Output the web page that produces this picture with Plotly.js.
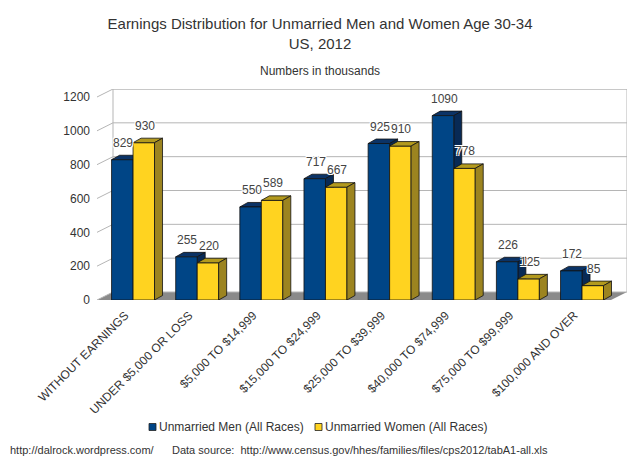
<!DOCTYPE html>
<html>
<head>
<meta charset="utf-8">
<script src="https://cdn.plot.ly/plotly-3.0.1.min.js"></script>
<style>html,body{margin:0;padding:0;background:#fff;}#chart{width:640px;height:461px;}</style>
</head>
<body>
<div id="chart"></div>
<script>
// ---- data ----
var categories = ["WITHOUT EARNINGS", "UNDER $5,000 OR LOSS", "$5,000 TO $14,999", "$15,000 TO $24,999",
                  "$25,000 TO $39,999", "$40,000 TO $74,999", "$75,000 TO $99,999", "$100,000 AND OVER"];
var men   = [829, 255, 550, 717, 925, 1090, 226, 172];
var women = [930, 220, 589, 667, 910, 778, 125, 85];
var seriesNames = ["Unmarried Men (All Races)", "Unmarried Women (All Races)"];
var yTicks = [0, 200, 400, 600, 800, 1000, 1200];

// ---- layout constants ----
var W = 640, H = 461;
var mL = 97, mR = 13, mT = 89, mB = 161;
var plotW = W - mL - mR, plotH = H - mT - mB;
var pxPerX = 64.14;               // pixels per category
var xMin = -0.562, xMax = xMin + plotW / pxPerX;
var pxPerY = 203 / 1200;
var yMax = plotH / pxPerY;
var bargap = 0.33;
var half = (1 - bargap) / 2;
var wallDx = 16 / pxPerX, wallDy = 8 / pxPerY;   // back wall depth
var barDx = 8 / pxPerX, barDy = 4.5 / pxPerY;    // bar depth
var backLeft = xMin + wallDx, frontRight = xMax - wallDx;
function px2paperX(px) { return (px - mL) / plotW; }
function px2paperY(py) { return (H - mB - py) / plotH; }

var idx = categories.map(function (c, i) { return i; });

var colMen = "#004586", colWomen = "#ffd320";
var colMenTop = "#0b3366", colMenSide = "#082a55";
var colWomenTop = "#b39a1e", colWomenSide = "#9c8420";
var FAM = "Liberation Sans, Arial, sans-serif";

var traces = [
  { type: "bar", name: seriesNames[0], x: idx, y: men,
    marker: { color: colMen, line: { color: "#111", width: 0.8 } }, hoverinfo: "y" },
  { type: "bar", name: seriesNames[1], x: idx, y: women,
    marker: { color: colWomen, line: { color: "#111", width: 0.8 } }, hoverinfo: "y" }
];

var shapes = [];
// floor
shapes.push({ type: "path", xref: "x", yref: "y", layer: "below",
  path: "M" + xMin + ",0 L" + frontRight + ",0 L" + xMax + "," + wallDy + " L" + backLeft + "," + wallDy + " Z",
  fillcolor: "#8a8a8a", line: { width: 0 } });
// back wall frame
shapes.push({ type: "rect", xref: "x", yref: "y", layer: "below",
  x0: backLeft, x1: xMax, y0: wallDy, y1: yMax, line: { color: "#b5b5b5", width: 1 }, fillcolor: "rgba(0,0,0,0)" });
// back wall gridlines + side wall diagonals
yTicks.forEach(function (v) {
  if (v > 0) {
    shapes.push({ type: "line", xref: "x", yref: "y", layer: "below",
      x0: backLeft, x1: xMax, y0: v + wallDy, y1: v + wallDy, line: { color: "#b5b5b5", width: 1 } });
  }
  shapes.push({ type: "line", xref: "x", yref: "y", layer: "below",
    x0: xMin, x1: backLeft, y0: v, y1: v + wallDy, line: { color: "#b5b5b5", width: 1 } });
});

// 3D faces for bars
function faces(x0, x1, v, topCol, sideCol, layer) {
  shapes.push({ type: "path", xref: "x", yref: "y", layer: layer,
    path: "M" + x0 + "," + v + " L" + x1 + "," + v + " L" + (x1 + barDx) + "," + (v + barDy) + " L" + (x0 + barDx) + "," + (v + barDy) + " Z",
    fillcolor: topCol, line: { color: "#111", width: 0.8 } });
  shapes.push({ type: "path", xref: "x", yref: "y", layer: layer,
    path: "M" + x1 + "," + v + " L" + (x1 + barDx) + "," + (v + barDy) + " L" + (x1 + barDx) + "," + barDy + " L" + x1 + ",0 Z",
    fillcolor: sideCol, line: { color: "#111", width: 0.8 } });
}
idx.forEach(function (k) {
  faces(k - half, k, men[k], colMenTop, colMenSide, "between");
  faces(k, k + half, women[k], colWomenTop, colWomenSide, "above");
});

var halo = "1px 1px 0 #fff, -1px -1px 0 #fff, 1px -1px 0 #fff, -1px 1px 0 #fff";
var lblFont = { family: FAM, size: 12, color: "#444", shadow: halo };
var annotations = [];
idx.forEach(function (k) {
  annotations.push({ x: k - half / 2, y: men[k], xref: "x", yref: "y", text: String(men[k]),
    showarrow: false, yanchor: "bottom", yshift: 8, xshift: 1, font: lblFont });
  annotations.push({ x: k + half / 2, y: women[k], xref: "x", yref: "y", text: String(women[k]),
    showarrow: false, yanchor: "bottom", yshift: 8, xshift: 1, font: lblFont });
});
annotations.push({ xref: "paper", yref: "paper", x: px2paperX(W / 2), y: px2paperY(71),
  text: "Numbers in thousands", showarrow: false, xanchor: "center", yanchor: "middle",
  font: { family: FAM, size: 12, color: "#333" } });
annotations.push({ xref: "paper", yref: "paper", x: px2paperX(8), y: px2paperY(450),
  text: "http://dalrock.wordpress.com/      Data source:  http://www.census.gov/hhes/families/files/cps2012/tabA1-all.xls",
  showarrow: false, xanchor: "left", yanchor: "middle",
  font: { family: FAM, size: 11, color: "#333" } });

// custom compact legend (square swatch + series name)
var legendY = 427;
var legendSwatchX = [149, 315];
var legendColors = [colMen, colWomen];
seriesNames.forEach(function (nm, i) {
  shapes.push({ type: "rect", xref: "paper", yref: "paper", layer: "above",
    x0: px2paperX(legendSwatchX[i]), x1: px2paperX(legendSwatchX[i] + 7),
    y0: px2paperY(legendY + 3.5), y1: px2paperY(legendY - 3.5),
    fillcolor: legendColors[i], line: { color: "#222", width: 0.8 } });
  annotations.push({ xref: "paper", yref: "paper", x: px2paperX(legendSwatchX[i] + 8), y: px2paperY(legendY),
    text: nm, showarrow: false, xanchor: "left", yanchor: "middle",
    font: { family: FAM, size: 12, color: "#333" } });
});

var layout = {
  width: W, height: H,
  margin: { l: mL, r: mR, t: mT, b: mB, pad: 0, autoexpand: false },
  paper_bgcolor: "#fff", plot_bgcolor: "rgba(0,0,0,0)",
  font: { family: FAM, color: "#333", size: 12 },
  title: { text: "Earnings Distribution for Unmarried Men and Women Age 30-34<br>US, 2012",
    x: 0.5, xref: "container", y: 1 - 29 / H, yref: "container", yanchor: "top",
    font: { family: FAM, size: 15, color: "#333" } },
  barmode: "group", bargap: bargap, bargroupgap: 0,
  xaxis: { range: [xMin, xMax], autorange: false, tickmode: "array", tickvals: idx, ticktext: categories,
    tickangle: -45, showgrid: false, zeroline: false, showline: false, ticks: "", automargin: false,
    ticklabelstandoff: 5, ticklabelshift: -8,
    tickfont: { size: 12, color: "#333" }, fixedrange: true },
  yaxis: { range: [0, yMax], autorange: false, tickmode: "array", tickvals: yTicks, showgrid: false, zeroline: false,
    showline: false, ticks: "", ticklabelstandoff: 6, automargin: false, tickfont: { size: 12, color: "#333" }, fixedrange: true },
  showlegend: false,
  shapes: shapes,
  annotations: annotations
};

Plotly.newPlot("chart", traces, layout, { displayModeBar: false, staticPlot: true });
</script>
</body>
</html>
